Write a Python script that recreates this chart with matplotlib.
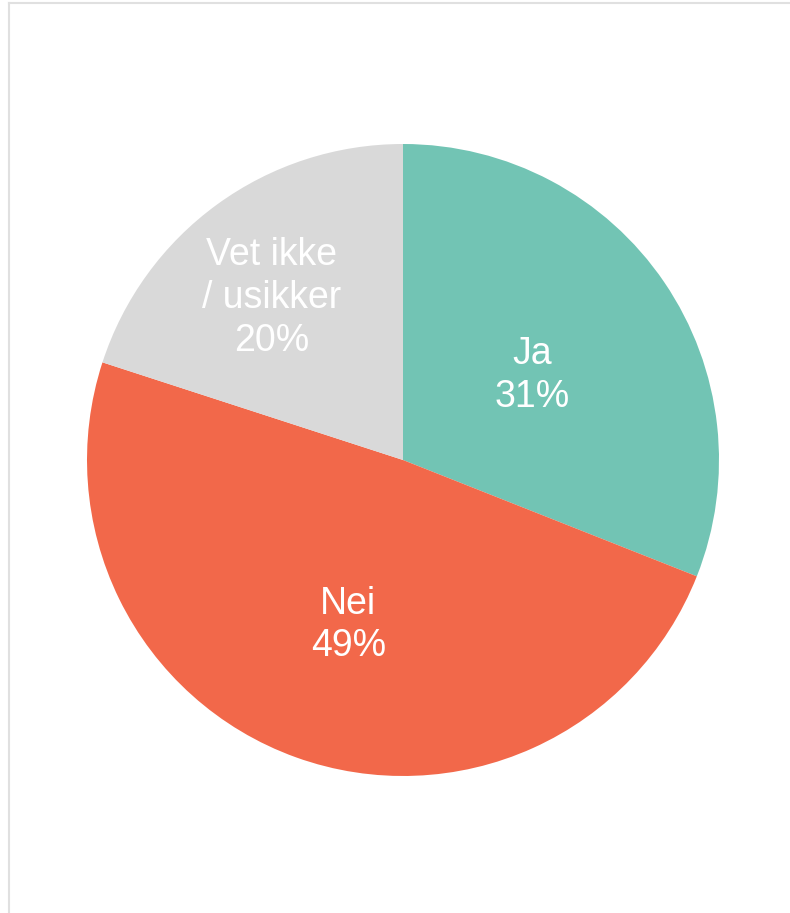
import matplotlib
matplotlib.use("Agg")
import matplotlib.pyplot as plt
from matplotlib.lines import Line2D
import numpy as np

labels = ["Ja", "Nei", "Vet ikke\n/ usikker"]
shares = [31, 49, 20]
colors = ["#72C4B4", "#F2684A", "#D9D9D9"]
# label placement: fraction of radius and small angle nudge (deg)
label_r = [0.49, 0.55, 0.66]
label_nudge = [-1, 1.5, 3]

plt.rcParams['font.family'] = ['Liberation Sans', 'DejaVu Sans']

W, H = 790, 913
fig = plt.figure(figsize=(W / 100, H / 100), dpi=100)

cx, cy, R = 403, 460, 316
ax = fig.add_axes([(cx - R) / W, (H - cy - R) / H, 2 * R / W, 2 * R / H])

wedges, _ = ax.pie(shares, colors=colors, startangle=90, counterclock=False,
                   radius=1, wedgeprops=dict(linewidth=0))
for w, lab, val, r, dn in zip(wedges, labels, shares, label_r, label_nudge):
    ang = np.deg2rad((w.theta1 + w.theta2) / 2 + dn)
    ax.text(r * np.cos(ang), r * np.sin(ang), f"{lab}\n{val}%",
            ha="center", va="center", color="white", fontsize=27,
            linespacing=1.24)
ax.set_xlim(-1, 1)
ax.set_ylim(-1, 1)
ax.set_aspect("equal")
ax.axis("off")

# light frame at top and left
def px(x, y):
    return x / W, 1 - y / H
x0, y0 = px(8.5, 3.5)
fig.add_artist(Line2D([x0, 1], [y0, y0], color="#e0e0e0", lw=1.5))
fig.add_artist(Line2D([x0, x0], [0, y0], color="#e0e0e0", lw=1.5))

fig.savefig("out.png", dpi=100, facecolor="white")
